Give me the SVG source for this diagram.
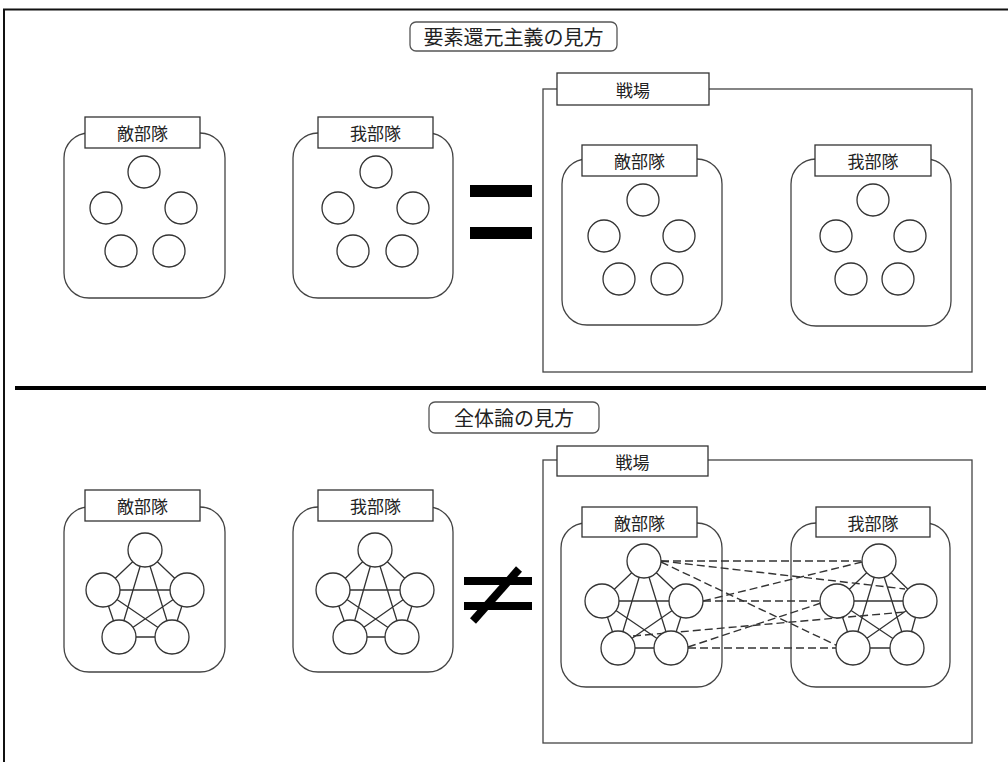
<svg xmlns="http://www.w3.org/2000/svg" xmlns:xlink="http://www.w3.org/1999/xlink" width="1008" height="762" viewBox="0 0 1008 762">
  <style>
    .frame { fill: none; stroke: #111; stroke-width: 2; }
    .field { fill: none; stroke: #444; stroke-width: 1.3; }
    .unit { fill: #fff; stroke: #444; stroke-width: 1.3; }
    .label { fill: #fff; stroke: #333; stroke-width: 1.3; }
    .title { fill: #fff; stroke: #555; stroke-width: 1.3; }
    .member { fill: #fff; stroke: #333; stroke-width: 1.3; }
    .edge { stroke: #333; stroke-width: 1.3; fill: none; }
    .link { stroke: #333; stroke-width: 1.4; stroke-dasharray: 8 4; fill: none; }
    .bar { fill: #000; }
    text { font-family: "Noto Sans CJK JP", "Noto Sans", sans-serif; fill: #222; text-anchor: middle; dominant-baseline: central; }
    .t-title { font-size: 20px; }
    .t-label { font-size: 17px; }
  </style>
  <defs>
    <circle id="m16" r="16" class="member"/>
    <circle id="m17" r="17" class="member"/>
  </defs>

  <rect width="1008" height="762" fill="#fff"/>

  <!-- page border -->
  <path class="frame" d="M4,762 V9.5 H1008"/>

  <!-- section divider -->
  <line x1="15" y1="388" x2="986" y2="388" stroke="#000" stroke-width="4"/>

  <!-- section headings -->
  <g id="heading-reductionism">
    <rect class="title" x="410" y="22" width="207" height="29" rx="6"/>
    <text class="t-title" x="513.5" y="36.5">要素還元主義の見方</text>
  </g>
  <g id="heading-holism">
    <rect class="title" x="429" y="402" width="170" height="31" rx="6"/>
    <text class="t-title" x="514" y="417.5">全体論の見方</text>
  </g>

  <!-- upper section: standalone units -->
  <g id="enemy-unit-1">
    <rect class="unit" x="64" y="133" width="161" height="165" rx="25"/>
    <rect class="label" x="85" y="117" width="115" height="31"/>
    <text class="t-label" x="142.5" y="132.5">敵部隊</text>
  </g>
  <g id="own-unit-1">
    <rect class="unit" x="293" y="133" width="160" height="165" rx="25"/>
    <rect class="label" x="318" y="117" width="115" height="31"/>
    <text class="t-label" x="375.5" y="132.5">我部隊</text>
  </g>

  <g id="equals-sign">
    <rect class="bar" x="470" y="185" width="62" height="12"/>
    <rect class="bar" x="470" y="227" width="62" height="12"/>
  </g>

  <!-- upper section: battlefield -->
  <g id="battlefield-1">
    <rect class="field" x="543" y="89" width="429" height="283"/>
    <rect class="label" x="557" y="73" width="152" height="32"/>
    <text class="t-label" x="633" y="89">戦場</text>
  </g>
  <g id="enemy-unit-2">
    <rect class="unit" x="562" y="159" width="160" height="166" rx="25"/>
    <rect class="label" x="582" y="145" width="115" height="31"/>
    <text class="t-label" x="639.5" y="160.5">敵部隊</text>
  </g>
  <g id="own-unit-2">
    <rect class="unit" x="791" y="159" width="160" height="167" rx="25"/>
    <rect class="label" x="815" y="145" width="116" height="31"/>
    <text class="t-label" x="873" y="160.5">我部隊</text>
  </g>

  <!-- lower section: standalone units -->
  <g id="enemy-unit-3">
    <rect class="unit" x="64" y="507" width="161" height="165" rx="25"/>
    <rect class="label" x="85" y="490" width="115" height="31"/>
    <text class="t-label" x="142.5" y="505.5">敵部隊</text>
  </g>
  <g id="own-unit-3">
    <rect class="unit" x="293" y="507" width="160" height="165" rx="25"/>
    <rect class="label" x="318" y="490" width="115" height="31"/>
    <text class="t-label" x="375.5" y="505.5">我部隊</text>
  </g>

  <g id="not-equal-sign">
    <rect class="bar" x="464" y="577" width="68" height="8"/>
    <rect class="bar" x="464" y="602" width="68" height="8"/>
    <line x1="519" y1="569" x2="473" y2="621" stroke="#000" stroke-width="8"/>
  </g>

  <!-- lower section: battlefield -->
  <g id="battlefield-2">
    <rect class="field" x="543" y="460" width="429" height="283"/>
    <rect class="label" x="557" y="446" width="151" height="30"/>
    <text class="t-label" x="632.5" y="461">戦場</text>
  </g>
  <g id="enemy-unit-4">
    <rect class="unit" x="561" y="523" width="161" height="164" rx="25"/>
    <rect class="label" x="582" y="507" width="115" height="30"/>
    <text class="t-label" x="639.5" y="522">敵部隊</text>
  </g>
  <g id="own-unit-4">
    <rect class="unit" x="791" y="523" width="159" height="164" rx="25"/>
    <rect class="label" x="816" y="507" width="114" height="30"/>
    <text class="t-label" x="873" y="522">我部隊</text>
  </g>

  <!-- connectors: ties inside each unit (solid) and between units (dashed) -->
  <g id="connectors">
    <!-- enemy-unit-3, all members tied together -->
    <path class="edge" d="M145,550 L103,590 M145,550 L187,590 M145,550 L119,637 M145,550 L172,637
                          M103,590 L187,590 M103,590 L119,637 M103,590 L172,637
                          M187,590 L119,637 M187,590 L172,637 M119,637 L172,637"/>
    <!-- own-unit-3 -->
    <path class="edge" d="M375,550 L333,590 M375,550 L417,590 M375,550 L350,637 M375,550 L402,637
                          M333,590 L417,590 M333,590 L350,637 M333,590 L402,637
                          M417,590 L350,637 M417,590 L402,637 M350,637 L402,637"/>
    <!-- enemy-unit-4 -->
    <path class="edge" d="M644,561 L602,601 M644,561 L686,601 M644,561 L618,648 M644,561 L671,648
                          M602,601 L686,601 M602,601 L618,648 M602,601 L671,648
                          M686,601 L618,648 M686,601 L671,648 M618,648 L671,648"/>
    <!-- own-unit-4 -->
    <path class="edge" d="M879,561 L837,601 M879,561 L920,601 M879,561 L853,648 M879,561 L907,648
                          M837,601 L920,601 M837,601 L853,648 M837,601 L907,648
                          M920,601 L853,648 M920,601 L907,648 M853,648 L907,648"/>
    <!-- cross-unit interactions on the battlefield -->
    <line class="link" x1="661" y1="561" x2="862" y2="561"/>
    <line class="link" x1="661" y1="561" x2="905" y2="589"/>
    <line class="link" x1="661" y1="562" x2="838" y2="646"/>
    <line class="link" x1="703" y1="601" x2="862" y2="562"/>
    <line class="link" x1="703" y1="601" x2="820" y2="601"/>
    <line class="link" x1="633" y1="636" x2="905" y2="612"/>
    <line class="link" x1="688" y1="647" x2="821" y2="603"/>
    <line class="link" x1="688" y1="648" x2="836" y2="648"/>
  </g>

  <!-- unit members -->
  <g id="members-enemy-1">
    <use xlink:href="#m16" x="144" y="172"/>
    <use xlink:href="#m16" x="106" y="208"/>
    <use xlink:href="#m16" x="181" y="208"/>
    <use xlink:href="#m16" x="121" y="251"/>
    <use xlink:href="#m16" x="169" y="251"/>
  </g>
  <g id="members-own-1">
    <use xlink:href="#m16" x="376" y="172"/>
    <use xlink:href="#m16" x="338" y="208"/>
    <use xlink:href="#m16" x="413" y="208"/>
    <use xlink:href="#m16" x="353" y="251"/>
    <use xlink:href="#m16" x="402" y="251"/>
  </g>
  <g id="members-enemy-2">
    <use xlink:href="#m16" x="643" y="200"/>
    <use xlink:href="#m16" x="604" y="236"/>
    <use xlink:href="#m16" x="679" y="236"/>
    <use xlink:href="#m16" x="619" y="279"/>
    <use xlink:href="#m16" x="667" y="279"/>
  </g>
  <g id="members-own-2">
    <use xlink:href="#m16" x="873" y="200"/>
    <use xlink:href="#m16" x="836" y="236"/>
    <use xlink:href="#m16" x="910" y="236"/>
    <use xlink:href="#m16" x="851" y="279"/>
    <use xlink:href="#m16" x="898" y="279"/>
  </g>
  <g id="members-enemy-3">
    <use xlink:href="#m17" x="145" y="550"/>
    <use xlink:href="#m17" x="103" y="590"/>
    <use xlink:href="#m17" x="187" y="590"/>
    <use xlink:href="#m17" x="119" y="637"/>
    <use xlink:href="#m17" x="172" y="637"/>
  </g>
  <g id="members-own-3">
    <use xlink:href="#m17" x="375" y="550"/>
    <use xlink:href="#m17" x="333" y="590"/>
    <use xlink:href="#m17" x="417" y="590"/>
    <use xlink:href="#m17" x="350" y="637"/>
    <use xlink:href="#m17" x="402" y="637"/>
  </g>
  <g id="members-enemy-4">
    <use xlink:href="#m17" x="644" y="561"/>
    <use xlink:href="#m17" x="602" y="601"/>
    <use xlink:href="#m17" x="686" y="601"/>
    <use xlink:href="#m17" x="618" y="648"/>
    <use xlink:href="#m17" x="671" y="648"/>
  </g>
  <g id="members-own-4">
    <use xlink:href="#m17" x="879" y="561"/>
    <use xlink:href="#m17" x="837" y="601"/>
    <use xlink:href="#m17" x="920" y="601"/>
    <use xlink:href="#m17" x="853" y="648"/>
    <use xlink:href="#m17" x="907" y="648"/>
  </g>
</svg>
